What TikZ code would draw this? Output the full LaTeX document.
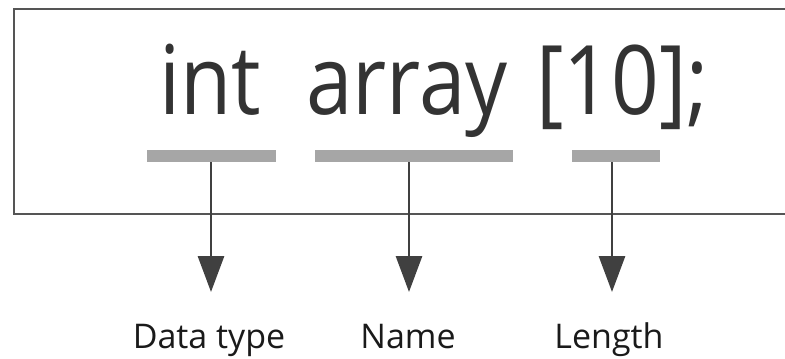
\documentclass[tikz,border=0pt]{standalone}
\usepackage{fontspec}
\setmainfont{Open Sans}
\usetikzlibrary{arrows.meta}
\definecolor{txtc}{HTML}{333333}
\definecolor{barc}{HTML}{A6A6A6}
\definecolor{boxc}{HTML}{555555}
\definecolor{arrc}{HTML}{404040}
\definecolor{labc}{HTML}{1A1A1A}
\newcommand{\bigtxt}[1]{\scalebox{0.87}[1]{#1}}
\tikzset{
  big/.style={anchor=base west, inner sep=0pt, text=txtc, font=\fontsize{72}{80}\selectfont},
  bar/.style={fill=barc, draw=none, inner sep=0pt, minimum height=9pt, anchor=north west},
  arr/.style={draw=arrc, line width=2.2pt, -{Triangle[width=19.5pt,length=27pt]}},
  lab/.style={anchor=base, inner sep=0pt, text=labc, font=\fontsize{25.5}{30}\selectfont},
}
\begin{document}
\begin{tikzpicture}[x=0.75pt,y=-0.75pt]
\useasboundingbox (0,0) rectangle (785,358);
\draw[boxc, line width=1.5pt] (790,9) -- (14,9) -- (14,214) -- (790,214);
\node[big] (int) at (159,114) {\bigtxt{int}};
\node[big] (arr) at (306,114) {\bigtxt{array}};
\node[big] (len) at (536,114) {\bigtxt{[10];}};
\node[bar, minimum width=96.75pt] (b1) at (147,150) {};
\node[bar, minimum width=148.5pt] (b2) at (315,150) {};
\node[bar, minimum width=66pt] (b3) at (572,150) {};
\coordinate (s1) at (211,162); \coordinate (t1) at (211,292);
\coordinate (s2) at (409,162); \coordinate (t2) at (409,292);
\coordinate (s3) at (612,162); \coordinate (t3) at (612,292);
\draw[arr] (s1) -- (t1);
\draw[arr] (s2) -- (t2);
\draw[arr] (s3) -- (t3);
\node[lab] (l1) at (209,348) {Data type};
\node[lab] (l2) at (408,348) {Name};
\node[lab] (l3) at (609,348) {Length};
\end{tikzpicture}
\end{document}
